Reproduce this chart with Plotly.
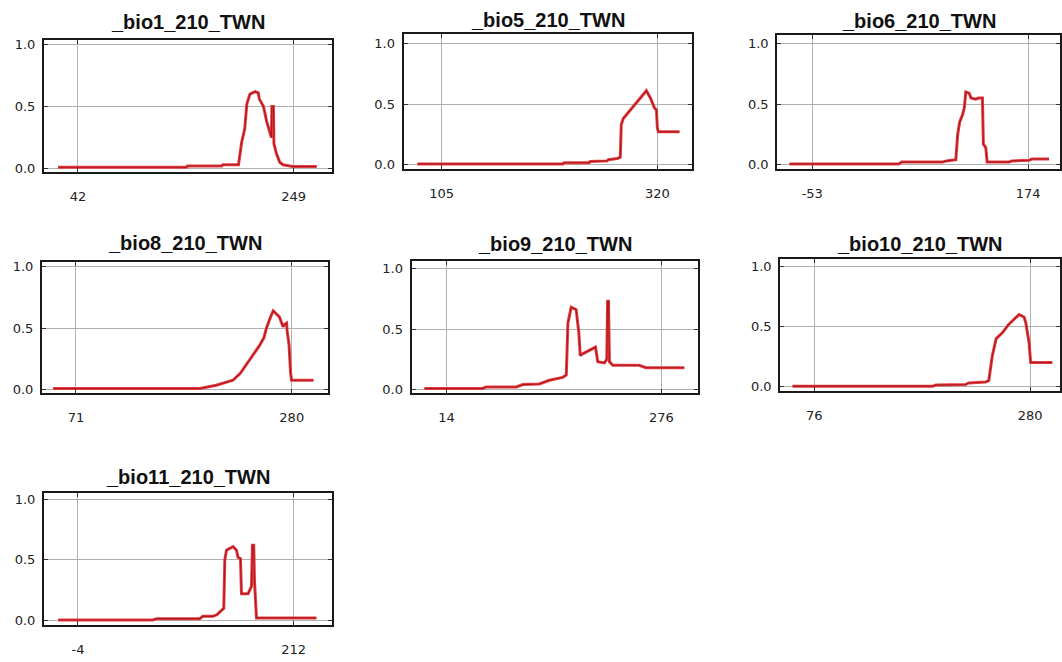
import plotly.graph_objects as go

# ---------------- data ----------------
titles = ["_bio1_210_TWN", "_bio5_210_TWN", "_bio6_210_TWN", "_bio8_210_TWN",
          "_bio9_210_TWN", "_bio10_210_TWN", "_bio11_210_TWN"]

bio1_x = [23, 146, 147, 180, 181, 196, 199, 202, 204, 207, 212, 215, 216, 220, 223, 226,
          227.6, 228.0, 229.5, 230.0, 232.4, 235.6, 238.7, 248, 271]
bio1_y = [0.01, 0.01, 0.02, 0.02, 0.03, 0.03, 0.21, 0.32, 0.52, 0.60, 0.62, 0.61, 0.56, 0.50,
          0.38, 0.28, 0.25, 0.50, 0.50, 0.20, 0.12, 0.05, 0.03, 0.016, 0.016]

bio5_x = [81, 226, 227, 252, 253, 270, 271, 280, 283, 284, 286, 295, 302, 309, 313, 317, 319,
          320, 321, 342]
bio5_y = [0.005, 0.005, 0.015, 0.015, 0.025, 0.03, 0.04, 0.05, 0.06, 0.33, 0.38, 0.47, 0.54,
          0.61, 0.55, 0.47, 0.45, 0.30, 0.27, 0.27]

bio6_x = [-77, 38, 41, 84, 88, 98, 100, 102, 105, 107, 108.5, 112, 114, 119, 122, 126, 127,
          129.5, 131, 154, 157, 175, 178, 196]
bio6_y = [0.005, 0.005, 0.02, 0.02, 0.03, 0.04, 0.25, 0.35, 0.41, 0.47, 0.60, 0.59, 0.55,
          0.54, 0.55, 0.55, 0.17, 0.14, 0.02, 0.02, 0.03, 0.035, 0.045, 0.045]

bio8_x = [49, 191, 207, 223, 230, 236, 243, 249, 253, 255.5, 259, 262, 268, 271.6, 273, 275,
          275.5, 277.4, 278.8, 279.8, 301]
bio8_y = [0.008, 0.008, 0.035, 0.075, 0.13, 0.20, 0.28, 0.36, 0.42, 0.50, 0.58, 0.64, 0.59,
          0.51, 0.53, 0.54, 0.48, 0.36, 0.14, 0.075, 0.075]

bio9_x = [-13, 58, 62, 99, 107, 127, 139.5, 155.7, 160, 162, 166, 172, 175.3, 177, 180, 188,
          195.6, 198.4, 206.5, 209.4, 210.4, 211.5, 212.6, 216.7, 249, 257, 304]
bio9_y = [0.008, 0.008, 0.02, 0.02, 0.04, 0.045, 0.076, 0.10, 0.12, 0.55, 0.68, 0.66, 0.47,
          0.28, 0.295, 0.32, 0.35, 0.23, 0.22, 0.25, 0.73, 0.73, 0.23, 0.20, 0.20, 0.18, 0.18]

bio10_x = [55.5, 188, 191, 219, 222, 238, 241, 243, 244.4, 248, 254, 260, 269.6, 274.3, 276,
           279, 280.6, 301]
bio10_y = [0.003, 0.003, 0.012, 0.017, 0.03, 0.038, 0.05, 0.18, 0.26, 0.40, 0.45, 0.52, 0.60,
           0.58, 0.53, 0.37, 0.20, 0.20]

bio11_x = [-23.7, 71, 75, 118, 121, 131, 135, 140, 142, 143, 144.7, 151.3, 154.7, 156.3, 158.7,
           159.7, 166.3, 169.7, 170.7, 172, 172.7, 174.7, 234.7]
bio11_y = [0.003, 0.003, 0.014, 0.014, 0.033, 0.033, 0.046, 0.09, 0.10, 0.50, 0.58, 0.61, 0.58,
           0.52, 0.51, 0.22, 0.22, 0.28, 0.62, 0.62, 0.33, 0.02, 0.02]

x_ticks = [[42, 249], [105, 320], [-53, 174], [71, 280], [14, 276], [76, 280], [-4, 212]]
y_ticks = [0.0, 0.5, 1.0]
y_tick_text = ["0.0", "0.5", "1.0"]

series = [(bio1_x, bio1_y), (bio5_x, bio5_y), (bio6_x, bio6_y), (bio8_x, bio8_y),
          (bio9_x, bio9_y), (bio10_x, bio10_y), (bio11_x, bio11_y)]

# ---------------- layout (pixel geometry of each panel) ----------------
W, H = 1062, 662
# box left, right, top, bottom (px)
boxes = [(44, 332, 38, 172), (404, 693, 32, 169), (778, 1061, 33, 169),
         (42, 328, 262, 395), (412, 699, 261, 395), (781, 1061, 259, 393),
         (44, 332, 495, 629)]
x_ranges = [[9.4, 285.4], [67.2, 354.8], [-89.8, 207.6], [38.1, 314.8],
            [-28.7, 321.1], [43.9, 308.3], [-38, 250]]
y_ranges = [[-0.032, 1.04], [-0.041, 1.082], [-0.041, 1.074], [-0.032, 1.04],
            [-0.033, 1.066], [-0.041, 1.066], [-0.041, 1.057]]
title_y = [22, 20, 21, 245, 246, 246, 481]

fig = go.Figure()
layout = dict(width=W, height=H, margin=dict(l=0, r=0, t=0, b=0),
              paper_bgcolor="white", plot_bgcolor="white", showlegend=False,
              annotations=[])

for i, ((xs, ys), box) in enumerate(zip(series, boxes)):
    n = "" if i == 0 else str(i + 1)
    xa, ya = "x" + n, "y" + n
    fig.add_trace(go.Scatter(x=xs, y=ys, mode="lines", xaxis=xa, yaxis=ya,
                             line=dict(color="rgb(228,62,66)", width=3.0),
                             hoverinfo="skip"))
    fig.add_trace(go.Scatter(x=xs, y=ys, mode="lines", xaxis=xa, yaxis=ya,
                             line=dict(color="rgb(175,22,28)", width=1.1),
                             hoverinfo="skip"))
    l, r, t, b = box
    common = dict(showline=True, linecolor="#1a1a1a", linewidth=2, mirror="ticks",
                  ticks="inside", ticklen=4, tickcolor="#333", tickwidth=1,
                  showgrid=True, gridcolor="#b0b0b0", gridwidth=1, zeroline=False,
                  fixedrange=True,
                  tickfont=dict(family="DejaVu Sans", size=13, color="#222"))
    layout["xaxis" + n] = dict(domain=[l / W, r / W], range=x_ranges[i], anchor=ya,
                               tickmode="array", tickvals=x_ticks[i],
                               ticktext=[str(v) for v in x_ticks[i]],
                               ticklabelstandoff=11, **common)
    layout["yaxis" + n] = dict(domain=[1 - b / H, 1 - t / H], range=y_ranges[i], anchor=xa,
                               tickmode="array", tickvals=y_ticks, ticktext=y_tick_text,
                               ticklabelstandoff=4, **common)
    layout["annotations"].append(dict(
        text=titles[i], xref="paper", yref="paper", x=(l + r) / 2 / W,
        y=1 - (title_y[i] - 2) / H, xanchor="center", yanchor="middle", showarrow=False,
        font=dict(family="Liberation Sans", size=20, color="#111", weight="bold")))

fig.update_layout(**layout)
fig.write_html("out.html")
